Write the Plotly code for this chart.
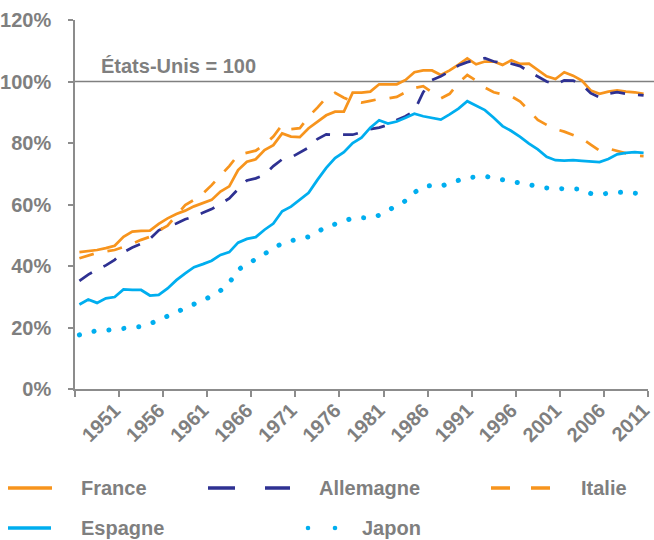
import plotly.graph_objects as go

# ---------------- data ----------------
years = list(range(1947, 2012))
label_years = [1951, 1956, 1961, 1966, 1971, 1976, 1981, 1986, 1991, 1996, 2001, 2006, 2011]
y_ticks = [0, 20, 40, 60, 80, 100, 120]
reference_level = 100
reference_label = "États-Unis = 100"

france = [44.5, 44.8, 45.2, 45.8, 46.6, 49.5, 51.2, 51.4, 51.5, 53.7,
          55.5, 56.9, 58.0, 59.4, 60.5, 61.5, 64.2, 65.9, 71.2, 73.9,
          74.7, 77.7, 79.3, 83.1, 82.1, 81.9, 84.8, 87.0, 89.0, 90.2,
          90.2, 96.4, 96.4, 96.7, 99.1, 99.1, 99.1, 100.5, 103.0, 103.6,
          103.6, 102.1, 103.6, 105.5, 107.5, 105.6, 106.5, 106.5, 105.4, 106.9,
          105.7, 105.8, 103.6, 101.7, 100.8, 103.0, 101.9, 100.3, 97.1, 96.0,
          96.7, 97.1, 96.7, 96.5, 96.0]

allemagne = [35.2, 37.2, 38.8, 40.2, 42.0, 44.5, 46.0, 47.2, 48.8, 51.6,
             53.0, 53.8, 55.2, 56.1, 57.3, 58.5, 60.2, 62.0, 65.0, 67.8,
             68.5, 69.6, 72.5, 74.7, 75.3, 77.0, 78.5, 81.3, 82.8, 82.7,
             82.6, 82.7, 83.5, 84.5, 85.0, 85.9, 87.5, 88.7, 90.5, 96.5,
             100.5, 101.7, 103.3, 105.2, 106.3, 107.0, 107.6, 106.5, 106.0, 105.8,
             105.0, 103.2, 101.5, 100.0, 99.0, 100.4, 100.3, 99.0, 96.2, 94.8,
             96.0, 96.5, 96.0, 95.7, 95.5]

italie = [42.5, 43.5, 44.3, 44.8, 45.2, 46.2, 47.2, 48.5, 49.5, 51.5,
          53.1, 56.5, 59.8, 61.5, 63.5, 66.3, 69.5, 72.5, 76.1, 76.8,
          77.5, 79.5, 82.1, 85.9, 84.5, 84.8, 88.6, 91.5, 94.7, 96.3,
          94.7, 93.5, 93.1, 93.7, 94.3, 94.5, 95.0, 96.5, 97.9, 98.5,
          96.5, 94.5, 96.0, 99.5, 102.1, 100.3, 98.0, 96.5, 95.8, 95.2,
          93.5, 90.5, 87.5, 85.9, 84.5, 83.7, 82.6, 81.5, 79.5, 77.5,
          78.2, 77.5, 76.8, 75.9, 75.7]

espagne = [27.5, 29.1, 28.0, 29.5, 29.9, 32.4, 32.2, 32.2, 30.4, 30.6,
           32.7, 35.4, 37.6, 39.6, 40.6, 41.7, 43.6, 44.5, 47.6, 48.8,
           49.4, 51.8, 53.8, 57.8, 59.3, 61.6, 63.8, 68.0, 71.9, 75.1,
           77.0, 80.0, 81.7, 85.0, 87.4, 86.3, 87.0, 88.2, 89.5, 88.7,
           88.2, 87.6, 89.3, 91.2, 93.6, 92.2, 90.7, 88.2, 85.5, 83.9,
           82.0, 79.8, 77.9, 75.5, 74.4, 74.3, 74.4, 74.2, 74.0, 73.8,
           74.8, 76.3, 76.8, 77.0, 76.8]

japon = [17.6, 18.5, 19.0, 19.1, 19.3, 19.6, 19.9, 20.3, 21.2, 22.3,
         23.7, 25.0, 26.3, 27.6, 28.6, 30.2, 32.0, 34.5, 38.8, 40.5,
         42.5, 44.3, 45.8, 47.4, 48.2, 49.0, 49.5, 51.0, 52.8, 53.6,
         54.6, 55.6, 55.7, 55.6, 56.5, 58.0, 59.4, 61.2, 63.9, 65.8,
         66.2, 65.9, 67.0, 67.9, 68.7, 69.0, 69.2, 68.6, 68.0, 67.6,
         67.2, 66.4, 65.8, 65.4, 65.2, 65.1, 65.1, 65.0, 63.6, 63.2,
         63.7, 63.9, 64.1, 63.7, 63.5]

series_names = ["France", "Allemagne", "Italie", "Espagne", "Japon"]
series_values = [france, allemagne, italie, espagne, japon]

# ---------------- styles ----------------
ORANGE = "#F7941D"
NAVY = "#2E3192"
BLUE = "#00AEEF"
GRAY = "#7F7F7F"
AXIS = "#8C8C8C"
FONT = "Liberation Sans, Arial, sans-serif"

W, H = 654, 540
L, R, T, B = 75, 6, 20, 151


def pxx(X):
    return (X - L) / (W - L - R)


def pxy(Y):
    return (H - B - Y) / (H - T - B)


line_styles = {
    "France": dict(color=ORANGE, width=2.75, dash="solid"),
    "Allemagne": dict(color=NAVY, width=2.75, dash="15px,13px"),
    "Italie": dict(color=ORANGE, width=2.75, dash="15px,14px"),
    "Espagne": dict(color=BLUE, width=2.75, dash="solid"),
    "Japon": dict(color=BLUE, width=5, dash="1px,14px"),
}

fig = go.Figure()
for name, vals in zip(series_names, series_values):
    fig.add_trace(go.Scatter(x=years, y=vals, mode="lines", name=name,
                             line=line_styles[name], showlegend=False,
                             hoverinfo="skip"))

# reference line (USA = 100)
fig.add_shape(type="line", xref="paper", yref="y", x0=0, x1=pxx(654),
              y0=reference_level, y1=reference_level,
              line=dict(color="#808080", width=1.5), layer="below")

fig.add_annotation(text=reference_label, xref="paper", yref="paper",
                   x=pxx(178), y=pxy(66), showarrow=False,
                   xanchor="center", yanchor="middle",
                   font=dict(family=FONT, size=20, color=GRAY, weight="bold"))

# ---------------- manual legend ----------------
legend_items = [
    ("France", 488, 8, 52, 79),
    ("Allemagne", 488, 208, 290, 317),
    ("Italie", 488, 491, 550, 579),
    ("Espagne", 528, 8, 51, 79),
    ("Japon", 528, 306, 337, 360),
]
legend_dash = {"France": "solid", "Allemagne": "27px,30px", "Italie": "19px,21px",
               "Espagne": "solid"}
for name, Y, x0, x1, xt in legend_items:
    st = line_styles[name]
    if name == "Japon":
        for cx in (308, 335):
            fig.add_shape(type="circle", xref="paper", yref="paper",
                          x0=pxx(cx - 2.3), x1=pxx(cx + 2.3),
                          y0=pxy(Y + 2.3), y1=pxy(Y - 2.3),
                          fillcolor=st["color"], line=dict(width=0))
    else:
        fig.add_shape(type="line", xref="paper", yref="paper",
                      x0=pxx(x0), x1=pxx(x1), y0=pxy(Y), y1=pxy(Y),
                      line=dict(color=st["color"], width=3.5, dash=legend_dash[name]))
    fig.add_annotation(text=name, xref="paper", yref="paper",
                       x=pxx(xt), y=pxy(Y), showarrow=False,
                       xanchor="left", yanchor="middle",
                       font=dict(family=FONT, size=20, color=GRAY, weight="bold"))

# ---------------- axes ----------------
fig.update_xaxes(
    range=[years[0] - 0.5, years[-1] + 0.5], automargin=False,
    tickmode="array", tickvals=label_years, ticktext=[str(y) for y in label_years],
    tickangle=-45, ticks="", ticklen=0,
    tickfont=dict(family=FONT, size=20, color=GRAY, weight="bold"),
    showline=True, linecolor=AXIS, linewidth=1.5,
    showgrid=False, zeroline=False,
    minor=dict(tickmode="array",
               tickvals=[years[0] - 0.5 + 5 * k for k in range(14)],
               ticks="outside", ticklen=6, tickcolor=AXIS, tickwidth=1.5,
               showgrid=False),
)
fig.update_yaxes(
    range=[0, 120], automargin=False, tickmode="array", tickvals=y_ticks,
    ticktext=[f"{v}%" for v in y_ticks],
    ticks="outside", ticklen=5, tickcolor=AXIS, tickwidth=1.5,
    ticklabelstandoff=13,
    tickfont=dict(family=FONT, size=20, color=GRAY, weight="bold"),
    showline=True, linecolor=AXIS, linewidth=1.5,
    showgrid=False, zeroline=False,
)

fig.update_layout(
    width=W, height=H, autosize=False,
    margin=dict(l=L, r=R, t=T, b=B, pad=0, autoexpand=False),
    paper_bgcolor="white", plot_bgcolor="white",
    showlegend=False,
)

post = """
document.body.style.margin = '0';
document.body.style.overflow = 'hidden';
var gd = document.getElementById('{plot_id}');
function roundDots(){
  var traces = gd.querySelectorAll('.scatterlayer .trace');
  var t = traces[4];
  if (t) { t.querySelectorAll('path.js-line').forEach(function(p){
      p.style.strokeLinecap = 'round';
      p.style.strokeDasharray = '0.1px,14.9px';
  }); }
}
roundDots();
setTimeout(roundDots, 30);
if (gd.on) { gd.on('plotly_afterplot', roundDots); }
"""

fig.write_html("out.html", post_script=post, config={"displayModeBar": False})
